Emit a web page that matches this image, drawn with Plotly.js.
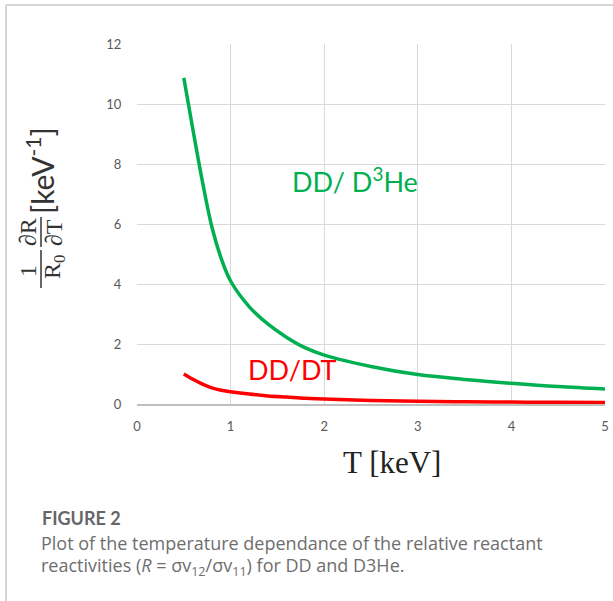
<!DOCTYPE html>
<html>
<head>
<meta charset="utf-8">
<script src="https://cdn.plot.ly/plotly-3.0.1.min.js"></script>
<style>html,body{margin:0;padding:0;background:#fff;}#chart{width:613px;height:601px;}</style>
</head>
<body>
<div id="chart"></div>
<script>
// Data
const temperature = [0.5, 0.6, 0.7, 0.8, 0.9, 1.0, 1.2, 1.4, 1.6, 1.8, 2.0, 2.5, 3.0, 3.5, 4.0, 4.5, 5.0];
const ddD3He      = [10.87, 9.1, 7.4, 5.9, 4.85, 4.1, 3.24, 2.66, 2.22, 1.87, 1.63, 1.25, 0.98, 0.82, 0.69, 0.58, 0.50];
const ddDT        = [1.0, 0.82, 0.66, 0.54, 0.46, 0.41, 0.33, 0.27, 0.23, 0.19, 0.17, 0.12, 0.09, 0.075, 0.065, 0.055, 0.05];
const seriesNames = ["DD/ D<sup>3</sup>He", "DD/DT"];
const xTickVals = [0, 1, 2, 3, 4, 5];
const yTickVals = [0, 2, 4, 6, 8, 10, 12];

// Pixel helpers for placing text relative to the plot area
const L = 137, T = 44, W = 468, H = 360;
const px = v => (v - L) / W;
const py = v => (T + H - v) / H;

const traces = [
  {x: temperature, y: ddD3He, mode: 'lines', name: 'DD/D3He',
   line: {color: '#00B050', width: 3.5, shape: 'spline'}},
  {x: temperature, y: ddDT, mode: 'lines', name: 'DD/DT',
   line: {color: '#FF0000', width: 3.5, shape: 'spline'}}
];

const serif = 'Liberation Serif, DejaVu Serif, serif';
const sans = 'Lato, Open Sans, sans-serif';
const cap = 'Open Sans, sans-serif';
const labelColor = '#333333';

const annotations = [
  {x: px(355), y: py(180), text: seriesNames[0], font: {family: sans, size: 27, color: '#00B050'}},
  {x: px(292), y: py(369), text: seriesNames[1], font: {family: sans, size: 27, color: '#FF0000'}},
  {x: px(392), y: py(462), text: 'T [keV]', font: {family: serif, size: 31, color: '#222222'}},
  // y-axis label pieces (rotated fraction)
  {x: px(28), y: py(271), text: '1', textangle: -90, font: {family: serif, size: 24, color: labelColor}},
  {x: px(54), y: py(267), text: 'R<sub>0</sub>', textangle: -90, font: {family: serif, size: 24, color: labelColor}},
  {x: px(28), y: py(232), text: '∂R', textangle: -90, font: {family: serif, size: 24, color: labelColor}},
  {x: px(54), y: py(233), text: '∂T', textangle: -90, font: {family: serif, size: 24, color: labelColor}},
  {x: px(40), y: py(171), text: '[keV<sup>-1</sup>]', textangle: -90, font: {family: sans, size: 30, color: labelColor}},
  // caption
  {x: px(40), y: py(518), xanchor: 'left', text: '<b>FIGURE 2</b>', font: {family: 'Liberation Sans Narrow, Lato, sans-serif', size: 18, color: '#666666'}},
  {x: px(39), y: py(543), xanchor: 'left', text: 'Plot of the temperature dependance of the relative reactant', font: {family: cap, size: 18, color: '#6e6e6e'}},
  {x: px(39), y: py(566), xanchor: 'left', text: 'reactivities (<i>R</i> = σv<sub>12</sub>/σv<sub>11</sub>) for DD and D3He.', font: {family: cap, size: 18, color: '#6e6e6e'}}
].map(a => Object.assign({xref: 'paper', yref: 'paper', showarrow: false, xanchor: 'center', yanchor: 'middle'}, a));

const shapes = [
  {type: 'line', xref: 'paper', yref: 'paper', x0: px(41), x1: px(41), y0: py(250), y1: py(288), line: {color: labelColor, width: 1.5}},
  {type: 'line', xref: 'paper', yref: 'paper', x0: px(41), x1: px(41), y0: py(217), y1: py(247), line: {color: labelColor, width: 1.5}},
  {type: 'line', xref: 'paper', yref: 'paper', x0: px(6), x1: px(6), y0: py(5), y1: py(601), line: {color: '#c8c8c8', width: 1.5}},
  {type: 'line', xref: 'paper', yref: 'paper', x0: px(6), x1: px(613), y0: py(5), y1: py(5), line: {color: '#c8c8c8', width: 1.5}}
];

const layout = {
  width: 613, height: 601,
  margin: {l: L, r: 613 - L - W, t: T, b: 601 - T - H},
  paper_bgcolor: '#ffffff', plot_bgcolor: '#ffffff',
  showlegend: false,
  xaxis: {range: [0, 5], tickvals: xTickVals, showgrid: true, gridcolor: '#d9d9d9', gridwidth: 1,
          zeroline: false, showline: true, linecolor: '#bfbfbf', linewidth: 1.5,
          ticks: 'outside', ticklen: 10, tickcolor: 'rgba(0,0,0,0)',
          tickfont: {family: sans, size: 13, color: '#595959'}, fixedrange: true},
  yaxis: {range: [0, 12], tickvals: yTickVals, showgrid: true, gridcolor: '#d9d9d9', gridwidth: 1,
          zeroline: false, showline: false,
          ticks: 'outside', ticklen: 12, tickcolor: 'rgba(0,0,0,0)',
          tickfont: {family: sans, size: 13, color: '#595959'}, fixedrange: true},
  annotations: annotations,
  shapes: shapes
};

Plotly.newPlot('chart', traces, layout, {displayModeBar: false, staticPlot: true});
</script>
</body>
</html>
